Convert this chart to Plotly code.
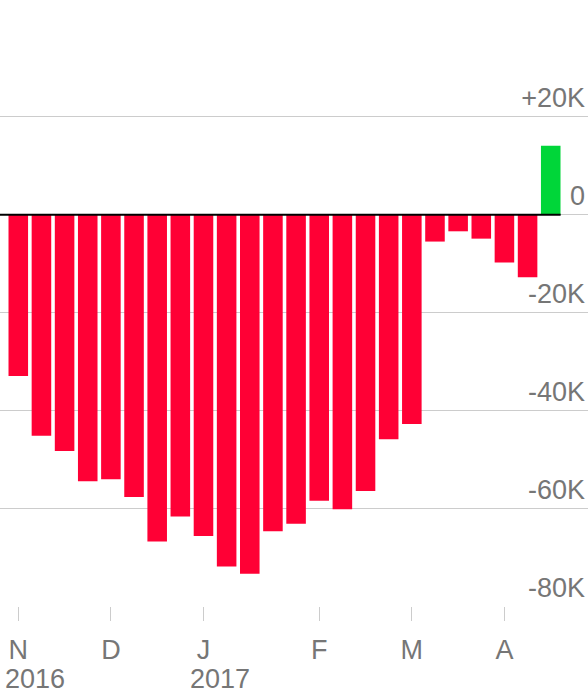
import plotly.graph_objects as go
import pandas as pd

weeks = ["2016-11-06", "2016-11-13", "2016-11-20", "2016-11-27", "2016-12-04",
         "2016-12-11", "2016-12-18", "2016-12-25", "2017-01-01", "2017-01-08",
         "2017-01-15", "2017-01-22", "2017-01-29", "2017-02-05", "2017-02-12",
         "2017-02-19", "2017-02-26", "2017-03-05", "2017-03-12", "2017-03-19",
         "2017-03-26", "2017-04-02", "2017-04-09", "2017-04-16"]
values = [-33000, -45200, -48300, -54500, -54100, -57700, -66800, -61700,
          -65700, -71900, -73400, -64700, -63200, -58500, -60200, -56500,
          -45900, -42800, -5500, -3400, -4900, -9800, -12800, 14100]

month_ticks = ["2016-11-06", "2016-12-04", "2017-01-01", "2017-02-05", "2017-03-05", "2017-04-02"]
month_labels = ["N", "D", "J", "F", "M", "A"]
year_ticks = ["2016-11-06", "2017-01-01"]
year_labels = ["2016", "2017"]

y_ticks = [-80000, -60000, -40000, -20000, 0, 20000]
y_labels = ["-80K", "-60K", "-40K", "-20K", "0", "+20K"]

RED = "#FF0035"
GREEN = "#00D639"
GRID = "#CCCCCC"
TEXT = "#767676"
FONT = "Liberation Sans, Arial, Helvetica, sans-serif"
FS = 27

colors = [GREEN if v > 0 else RED for v in values]

fig = go.Figure(go.Bar(
    x=weeks, y=values, marker=dict(color=colors, line=dict(width=0)),
    hoverinfo="x+y",
))

x_start = pd.Timestamp(weeks[0]) - pd.Timedelta(days=5.53)
x_end = x_start + pd.Timedelta(days=177.8)

annotations = []
for d, t in zip(year_ticks, year_labels):
    annotations.append(dict(
        x=d, xref="x", y=-0.124, yref="paper", text=t, showarrow=False,
        xanchor="left", yanchor="middle", xshift=-15,
        font=dict(family=FONT, size=FS, color=TEXT),
    ))

last_neg = pd.Timestamp(weeks[-1]) + pd.Timedelta(days=3)

fig.update_layout(
    width=588, height=690,
    margin=dict(l=0, r=0, t=19, b=84, autoexpand=False),
    paper_bgcolor="white", plot_bgcolor="white",
    bargap=0.155,
    showlegend=False,
    font=dict(family=FONT, size=FS, color=TEXT),
    xaxis=dict(
        type="date", range=[x_start, x_end], automargin=False,
        tickvals=month_ticks, ticktext=month_labels,
        ticks="outside", ticklen=14, tickcolor=GRID, tickwidth=1.3,
        ticklabelstandoff=6,
        showgrid=False, zeroline=False, showline=False,
        tickfont=dict(family=FONT, size=FS, color=TEXT),
    ),
    yaxis=dict(
        range=[-80000, 40000], side="right", automargin=False,
        tickvals=y_ticks, ticktext=y_labels,
        ticklabelposition="inside top",
        showgrid=True, gridcolor=GRID, gridwidth=1.3,
        zeroline=False, showline=False, ticks="",
        tickfont=dict(family=FONT, size=FS, color=TEXT),
    ),
    annotations=annotations,
    shapes=[dict(type="line", xref="x", yref="y", x0=x_start, x1=last_neg,
                 y0=0, y1=0, line=dict(color="black", width=2), layer="above")],
)

fig.write_html("out.html", config={"displayModeBar": False},
               post_script="document.body.style.margin='0';document.body.style.padding='0';")
